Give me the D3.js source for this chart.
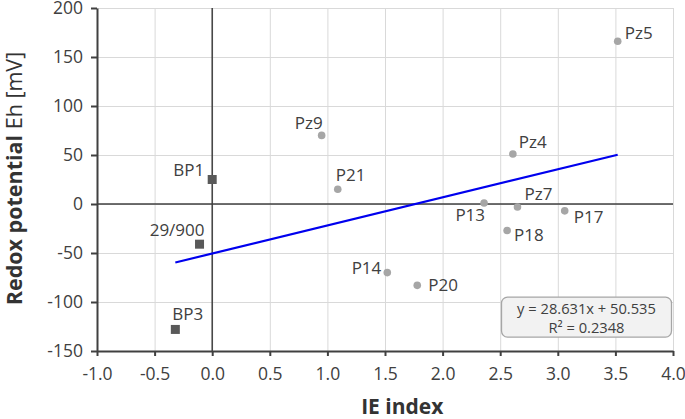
<!DOCTYPE html>
<html>
  <head>
    <meta charset="utf-8">
    <script src="https://d3js.org/d3.v7.min.js"></script>
    <style>
    body { margin: 0; background: #fff; }
    svg { font-family: 'Open Sans', sans-serif; }
    .grid line { stroke: #d9d9d9; stroke-width: 1; }
    .grid path { stroke: none; }
    </style>
  </head>
  <body>
    <script>

      // data
      var names = ["BP1", "29/900", "BP3", "Pz9", "P21", "Pz4", "Pz5", "P13", "Pz7", "P17", "P18", "P14", "P20"];
      var ieIndex = [0.0, -0.11, -0.32, 0.95, 1.09, 2.61, 3.52, 2.36, 2.65, 3.06, 2.56, 1.52, 1.78];
      var eh = [25, -41, -128, 70, 15, 51, 166, 1, -3, -7, -27, -70, -83];
      var markerType = ["square", "square", "square", "circle", "circle", "circle", "circle", "circle", "circle", "circle", "circle", "circle", "circle"];
      var xTicks = [-1.0, -0.5, 0.0, 0.5, 1.0, 1.5, 2.0, 2.5, 3.0, 3.5, 4.0];
      var yTicks = [-150, -100, -50, 0, 50, 100, 150, 200];
      // trend line as drawn (slope, intercept) and its x range
      var trendSlope = 28.631, trendIntercept = -50.535;
      var trendRange = [-0.32, 3.52];
      var eqLines = ["y = 28.631x + 50.535", "R² = 0.2348"];

      // label placement (offsets from the marker)
      var labelPos = {
        "BP1": [-8, -4, "end"], "29/900": [5, -8, "end"], "BP3": [-3, -9, "start"],
        "Pz9": [1, -6, "end"], "P21": [-2, -8, "start"], "Pz4": [6, -6, "start"],
        "Pz5": [7, -2, "start"], "P13": [1, 18, "end"], "Pz7": [7, -7, "start"],
        "P17": [9, 12, "start"], "P18": [7, 11, "start"], "P14": [-6, 1, "end"],
        "P20": [11, 6, "start"]
      };

      var w = 685, h = 419;
      var margin = { top: 8, left: 97, right: 12, bottom: 68 };
      var plotwidth = w - margin.left - margin.right;
      var plotheight = h - margin.top - margin.bottom;

      var svg = d3.select("body").append("svg")
          .attr("width", w)
          .attr("height", h);
      var plotarea = svg.append("g")
          .attr("transform", "translate(" + margin.left + "," + margin.top + ")");

      var xScale = d3.scaleLinear().domain([-1, 4]).range([0, plotwidth]);
      var yScale = d3.scaleLinear().domain([-150, 200]).range([plotheight, 0]);

      // gridlines
      plotarea.append("g").attr("class", "grid")
          .call(d3.axisBottom(xScale).tickValues(xTicks).tickSize(plotheight).tickFormat(""));
      plotarea.append("g").attr("class", "grid")
          .call(d3.axisLeft(yScale).tickValues(yTicks).tickSize(-plotwidth).tickFormat(""));

      // zero lines
      plotarea.append("line")
          .attr("x1", 0).attr("x2", plotwidth)
          .attr("y1", yScale(0)).attr("y2", yScale(0))
          .attr("stroke", "#404040").attr("stroke-width", 1.5);
      plotarea.append("line")
          .attr("x1", xScale(0)).attr("x2", xScale(0))
          .attr("y1", 0).attr("y2", plotheight)
          .attr("stroke", "#404040").attr("stroke-width", 1.5);

      // axes
      var xAxis = plotarea.append("g")
          .attr("transform", "translate(0," + plotheight + ")")
          .call(d3.axisBottom(xScale).tickValues(xTicks).tickSize(5).tickSizeOuter(0).tickPadding(12).tickFormat(d3.format(".1f")));
      var yAxis = plotarea.append("g")
          .call(d3.axisLeft(yScale).tickValues(yTicks).tickSize(6).tickSizeOuter(0).tickPadding(8));
      [xAxis, yAxis].forEach(function(a) {
        a.attr("font-size", 17.5).attr("font-family", "'Open Sans', sans-serif");
        a.select(".domain").attr("stroke", "#404040").attr("stroke-width", 2);
        a.selectAll(".tick line").attr("stroke", "#404040").attr("stroke-width", 2);
        a.selectAll(".tick text").attr("fill", "#404040").style("font-size", "17.5px");
      });
      xAxis.selectAll(".tick text").text(function(d) { return d3.format(".1f")(d).replace("−", "-"); });
      yAxis.selectAll(".tick text").text(function(d) { return String(d); });

      // trend line
      plotarea.append("line")
          .attr("x1", xScale(trendRange[0]))
          .attr("y1", yScale(trendSlope * trendRange[0] + trendIntercept))
          .attr("x2", xScale(trendRange[1]))
          .attr("y2", yScale(trendSlope * trendRange[1] + trendIntercept))
          .attr("stroke", "#0000ee").attr("stroke-width", 2.2);

      // points
      var pts = names.map(function(n, i) {
        return { name: n, x: ieIndex[i], y: eh[i], type: markerType[i] };
      });
      plotarea.selectAll(".sq").data(pts.filter(function(d) { return d.type == "square"; }))
        .enter().append("rect")
          .attr("x", function(d) { return xScale(d.x) - 4.5; })
          .attr("y", function(d) { return yScale(d.y) - 4.5; })
          .attr("width", 9).attr("height", 9)
          .attr("fill", "#595959");
      plotarea.selectAll(".ci").data(pts.filter(function(d) { return d.type == "circle"; }))
        .enter().append("circle")
          .attr("cx", function(d) { return xScale(d.x); })
          .attr("cy", function(d) { return yScale(d.y); })
          .attr("r", 3.8)
          .attr("fill", "#a6a6a6");

      plotarea.selectAll(".lbl").data(pts)
        .enter().append("text")
          .attr("x", function(d) { return xScale(d.x) + labelPos[d.name][0]; })
          .attr("y", function(d) { return yScale(d.y) + labelPos[d.name][1]; })
          .attr("text-anchor", function(d) { return labelPos[d.name][2]; })
          .attr("font-size", "17px")
          .attr("fill", "#404040")
          .text(function(d) { return d.name; });

      // equation box
      var bx = xScale(2.52) - 1, by = yScale(-95);
      plotarea.append("rect")
          .attr("x", bx).attr("y", by)
          .attr("width", 170).attr("height", 40)
          .attr("rx", 6)
          .attr("fill", "#f2f2f2").attr("stroke", "#a6a6a6").attr("stroke-width", 1.3);
      var eq = plotarea.append("text")
          .attr("text-anchor", "middle")
          .attr("font-size", "14.7px")
          .attr("fill", "#404040");
      eq.append("tspan").attr("x", bx + 85).attr("y", by + 17).text(eqLines[0]);
      eq.append("tspan").attr("x", bx + 85).attr("y", by + 36).text(eqLines[1]);

      // axis titles
      svg.append("text")
          .attr("x", margin.left + xScale(1.65))
          .attr("y", 414)
          .attr("text-anchor", "middle")
          .attr("font-size", "21px")
          .attr("font-weight", "bold")
          .attr("fill", "#333")
          .text("IE index");
      var yt = svg.append("text")
          .attr("transform", "translate(22," + (margin.top + yScale(26)) + ") rotate(-90)")
          .attr("text-anchor", "middle")
          .attr("font-size", "21.5px")
          .attr("fill", "#333");
      yt.append("tspan").attr("font-weight", "bold").text("Redox potential");
      yt.append("tspan").text(" Eh [mV]");

    </script>
  </body>
</html>
